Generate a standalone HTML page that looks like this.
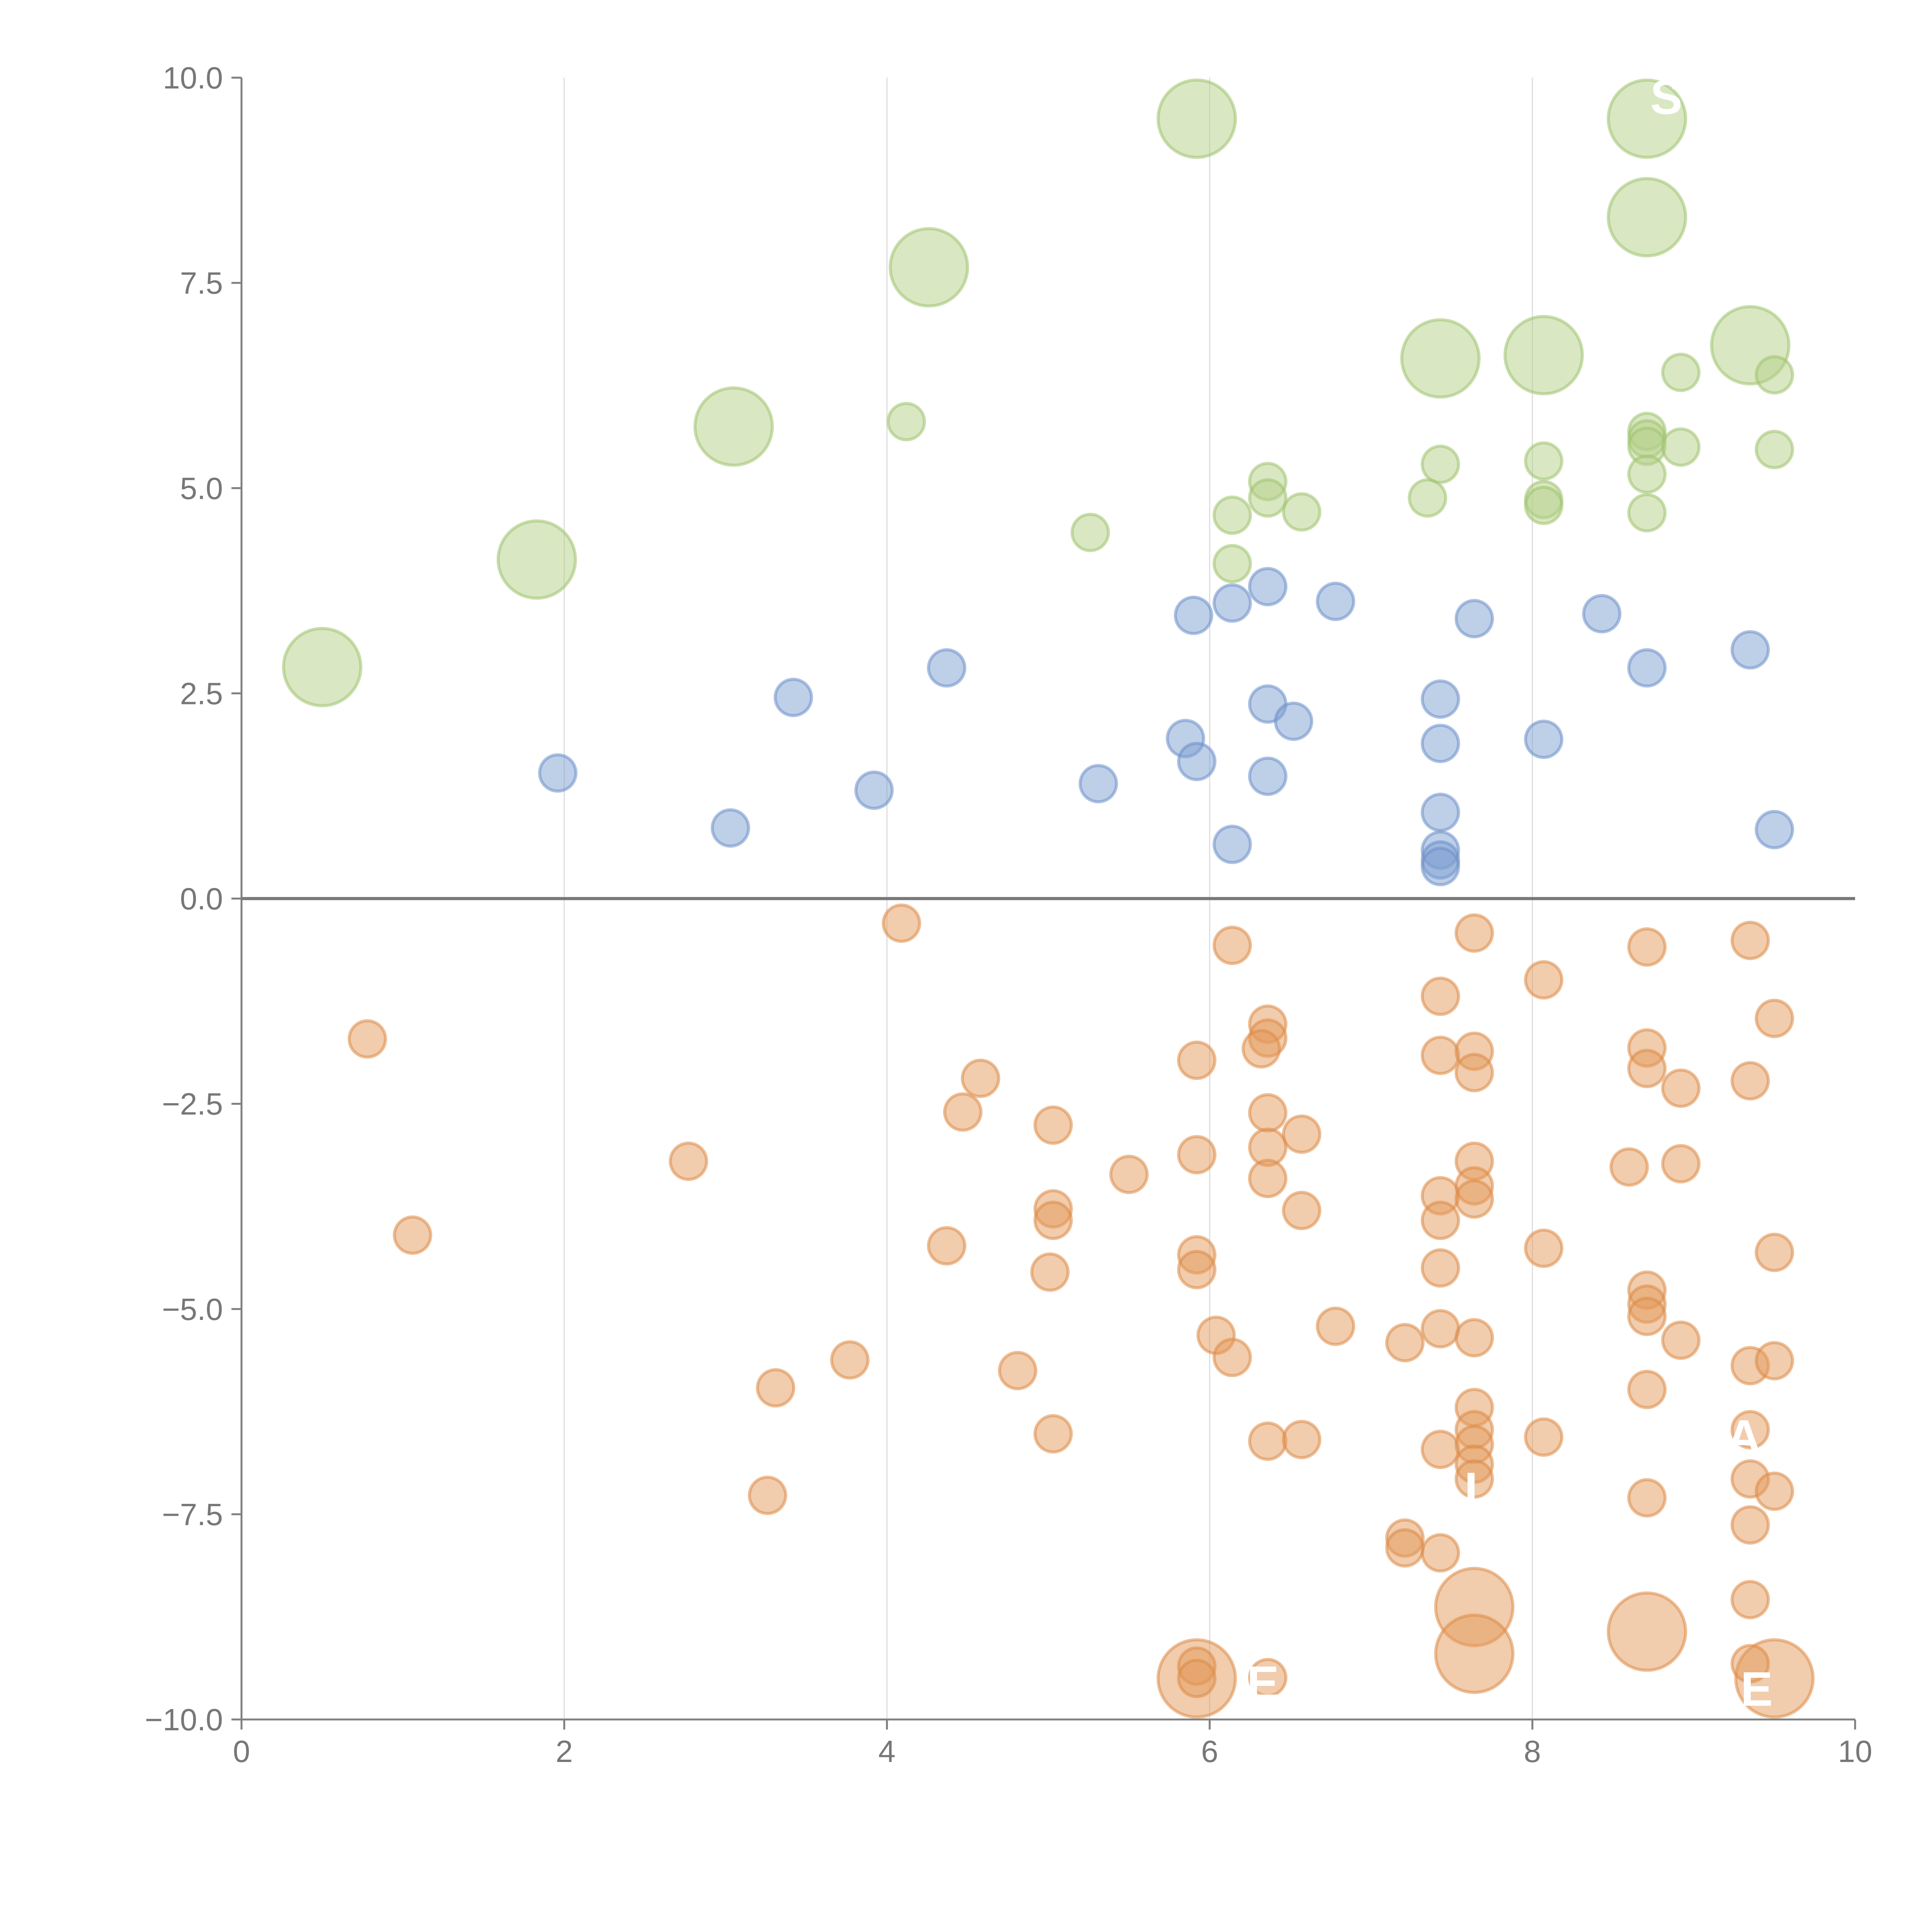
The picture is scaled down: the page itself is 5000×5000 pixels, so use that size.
<!DOCTYPE html>
<html><head><meta charset="utf-8"><style>
html,body{margin:0;padding:0;background:#fff;}
svg{display:block;font-family:"Liberation Sans",sans-serif;}
</style></head><body>
<svg id="chart" width="5000" height="5000" viewBox="0 0 5000 5000" xmlns="http://www.w3.org/2000/svg">
<g id="grid"></g>
<g id="axes"></g>
<g id="marks"></g>
<g id="labels"></g>
</svg>
<script>
const xTicks = [0, 2, 4, 6, 8, 10];
const yTicks = [10, 7.5, 5, 2.5, 0, -2.5, -5, -7.5, -10];
const yTickLabels = ["10.0", "7.5", "5.0", "2.5", "0.0", "\u22122.5", "\u22125.0", "\u22127.5", "\u221210.0"];

const greenSmallX = [4.12,5.26,6.14,6.14,6.36,6.36,6.57,7.35,7.43,8.07,8.07,8.07,8.71,8.71,8.71,8.71,8.71,8.92,8.92,9.50,9.50];
const greenSmallY = [5.81,4.46,4.67,4.08,5.08,4.88,4.71,4.88,5.29,5.33,4.86,4.79,5.69,5.60,5.51,5.17,4.70,6.41,5.50,6.38,5.47];
const greenLargeX = [0.50,1.83,3.05,4.26,5.92,7.43,8.07,8.71,8.71,9.35];
const greenLargeY = [2.82,4.13,5.75,7.69,9.50,6.58,6.62,9.50,8.30,6.74];

const blueX = [1.96,3.03,3.42,3.92,4.37,5.31,5.85,5.90,5.92,6.14,6.14,6.36,6.36,6.36,6.52,6.78,7.43,7.43,7.43,7.43,7.43,7.43,7.64,8.07,8.43,8.71,9.35,9.50];
const blueY = [1.53,0.86,2.45,1.32,2.81,1.40,1.95,3.45,1.67,3.60,0.66,3.80,2.37,1.49,2.16,3.62,2.43,1.89,1.05,0.59,0.47,0.39,3.41,1.94,3.47,2.81,3.03,0.84];

const orangeSmallX = [4.09,0.78,1.06,2.77,3.26,3.31,3.77,4.37,4.47,4.58,4.81,5.01,5.03,5.03,5.03,5.03,5.50,5.92,5.92,5.92,5.92,5.92,5.92,6.04,6.14,6.14,6.36,6.36,6.32,6.36,6.36,6.36,6.36,6.36,6.57,6.57,6.57,6.78,7.21,7.21,7.21,7.43,7.43,7.43,7.43,7.43,7.43,7.43,7.43,7.64,7.64,7.64,7.64,7.64,7.64,7.64,7.64,7.64,7.64,7.64,7.64,8.07,8.07,8.07,8.60,8.71,8.71,8.71,8.71,8.71,8.71,8.71,8.71,8.92,8.92,8.92,9.35,9.35,9.35,9.35,9.35,9.35,9.35,9.35,9.50,9.50,9.50,9.50];
const orangeSmallY = [-0.30,-1.71,-4.10,-3.20,-7.27,-5.96,-5.62,-4.23,-2.60,-2.19,-5.75,-4.55,-2.76,-3.78,-3.92,-6.52,-3.36,-1.97,-3.12,-4.34,-4.52,-9.35,-9.50,-5.32,-0.57,-5.59,-1.53,-1.70,-1.83,-2.61,-3.03,-3.41,-6.61,-9.49,-2.87,-3.80,-6.59,-5.21,-5.41,-7.79,-7.91,-1.19,-1.91,-3.62,-3.92,-4.50,-5.24,-6.71,-7.97,-0.42,-1.86,-2.12,-3.20,-3.50,-3.66,-5.35,-6.20,-6.47,-6.65,-6.89,-7.07,-0.99,-4.26,-6.56,-3.27,-0.59,-1.82,-2.07,-4.77,-4.94,-5.09,-5.98,-7.30,-2.31,-3.23,-5.38,-0.51,-2.22,-5.69,-6.47,-7.07,-7.63,-8.54,-9.32,-1.46,-4.31,-5.63,-7.22];
const orangeLargeX = [5.92,7.64,7.64,8.71,9.50];
const orangeLargeY = [-9.50,-8.63,-9.20,-8.93,-9.50];

const annoText = ["S","A","I","E","E"];
const annoX = [8.83,9.31,7.62,6.33,9.39];
const annoY = [9.77,-6.55,-7.19,-9.55,-9.62];

const NS = "http://www.w3.org/2000/svg";
const X0 = 625, X1 = 4801, Y0 = 4450, Y1 = 201;
function sx(v){ return X0 + (v - 0) / 10 * (X1 - X0); }
function sy(v){ return Y0 - (v + 10) / 20 * (Y0 - Y1); }
function mk(tag, attrs, parent){ const e = document.createElementNS(NS, tag); for (const k in attrs) e.setAttribute(k, attrs[k]); parent.appendChild(e); return e; }

const grid = document.getElementById('grid');
const axes = document.getElementById('axes');
const marks = document.getElementById('marks');
const labels = document.getElementById('labels');

xTicks.forEach(t => {
  if (t > 0 && t < 10) {
    const g = mk('line', {x1: sx(t), x2: sx(t), y1: Y1, y2: Y0, stroke: '#dddddd', 'stroke-width': 3}, grid);
    
    
  }
  const tk = mk('line', {x1: sx(t), x2: sx(t), y1: Y0, y2: Y0 + 26, stroke: '#808080', 'stroke-width': 5}, axes);
  
  
  const tl = mk('text', {x: sx(t), y: Y0 + 110, 'text-anchor': 'middle', 'font-size': 80, fill: '#777777'}, axes);
  tl.textContent = String(t);
  
  
});
yTicks.forEach((t, i) => {
  const tk = mk('line', {x1: X0 - 26, x2: X0, y1: sy(t), y2: sy(t), stroke: '#808080', 'stroke-width': 5}, axes);
  
  
  const tl = mk('text', {x: X0 - 48, y: sy(t) + 28, 'text-anchor': 'end', 'font-size': 80, fill: '#777777'}, axes);
  tl.textContent = yTickLabels[i];
  
  
});
const xa = mk('line', {x1: X0, x2: X1, y1: Y0, y2: Y0, stroke: '#808080', 'stroke-width': 5}, axes);


const ya = mk('line', {x1: X0, x2: X0, y1: Y1, y2: Y0, stroke: '#808080', 'stroke-width': 5}, axes);


const zl = mk('line', {x1: X0, x2: X1, y1: sy(0), y2: sy(0), stroke: '#777777', 'stroke-width': 8}, axes);



function drawSeries(xs, ys, r, fill, stroke, name){
  xs.forEach((x, i) => {
    const c = mk('circle', {cx: sx(x), cy: sy(ys[i]), r: r, fill: fill, 'fill-opacity': 0.5, stroke: stroke, 'stroke-opacity': 0.55, 'stroke-width': 8}, marks);
    
    
  });
}
drawSeries(greenLargeX, greenLargeY, 100, '#b3cf87', '#9fc26e', 'green-bubble-large');
drawSeries(greenSmallX, greenSmallY, 47, '#b3cf87', '#9fc26e', 'green-bubble');
drawSeries(blueX, blueY, 47, '#7ea0d2', '#6b8fc8', 'blue-bubble');
drawSeries(orangeLargeX, orangeLargeY, 100, '#e39a5c', '#dd8a45', 'orange-bubble-large');
drawSeries(orangeSmallX, orangeSmallY, 47, '#e39a5c', '#dd8a45', 'orange-bubble');

annoText.forEach((s, i) => {
  const t = mk('text', {x: sx(annoX[i]), y: sy(annoY[i]) + 45, 'text-anchor': 'middle', 'font-size': 125, 'font-weight': 'bold', fill: '#ffffff'}, labels);
  t.textContent = s;
  
  
});
</script>
</body></html>
